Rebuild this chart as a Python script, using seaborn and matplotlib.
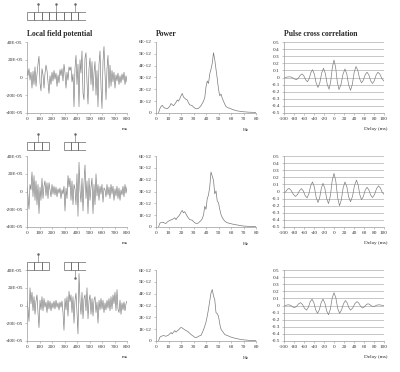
import numpy as np
import matplotlib
matplotlib.use('Agg')
import matplotlib.pyplot as plt
import seaborn as sns
from matplotlib.patches import Rectangle

sns.set_theme(style='ticks')
plt.rcParams['font.family'] = ['Liberation Serif', 'DejaVu Serif']
plt.rcParams['axes.unicode_minus'] = False

# ---- data ----
# local field potential traces (units of E-05), evenly spaced over 0..800 ms
lfp1 = [8, 2, 10, -3, 6, -12, 7, -8, 12, -10, 4, 15, 24, -6, -15, 10, 3, -12, 5, 14,
        8, -5, -18, 2, -8, 6, -4, 8, -2, 5, -10, 3, -6, 9, 2, 10, -4, 15, 5, -12,
        6, -3, 12, 8, 12, -5, 4, -33, 10, 25, -8, 15, -33, 20, 5, 30, -18, -25, 22, 28,
        -5, -30, 10, 22, -8, 18, -15, 5, 18, -20, 8, -33, 15, 30, -10, -35, 18, 35, 5, -25,
        10, 25, -12, 14, -10, 8, -5, 6, -12, 3, -4, 5, -8, 2, -6, 4, -3, 6, -8, 2, -5]
lfp2 = [5, -5, -20, 8, 2, 22, -6, 18, -10, 12, -15, 8, -25, 5, -10, 15, -8, 6, 12, -5,
        10, -8, 10, 2, -6, 8, -3, 6, -4, 5, -6, 3, -2, 4, -8, 2, -3, 6, -22, 4,
        -8, 18, 5, 15, -10, 12, -15, 8, 3, -15, 20, -28, 33, 2, -12, 15, -22, 10, 30, -8,
        12, -25, 15, -10, 5, 15, -25, 8, -15, 20, -5, 8, -10, 6, -3, 8, -12, 4, 2, -6,
        8, -4, 5, -8, 8, -3, 6, -10, 3, -5, 6, -8, 4, -10, 2, -4, 6, -6, 8, -2, 5]
lfp3 = [5, -3, -18, 20, 2, 15, -6, 10, -10, 5, 12, -8, -25, 6, -5, 10, -6, 8, -2, 4,
        -8, 6, -4, 5, -6, 3, -3, 5, -4, 6, -2, 3, -5, 4, -2, 5, -8, -28, 8, -5,
        10, -12, 16, 4, 12, -8, 10, -20, 6, 14, -8, -32, 36, 5, -10, 15, -15, 8, 12, -6,
        20, -15, 5, 12, -10, 8, -12, 6, 10, -8, 4, -20, 6, -5, 8, -4, 6, -8, 3, -5,
        6, -3, 8, -6, 10, -4, 12, 2, 15, -6, 18, -4, -8, 6, -10, 3, -5, 4, -6, 2, 5]

# power spectra (units of E-12), 1 Hz bins starting at 2 Hz
pow1 = [0.0, 0.35, 0.55, 0.65, 0.5, 0.42, 0.4, 0.37, 0.45, 0.57, 0.8, 0.7, 0.62, 0.75, 0.9,
        1.1, 1.0, 1.2, 1.45, 1.65, 1.35, 1.25, 1.15, 1.1, 0.85, 0.7, 0.65, 0.62, 0.5, 0.42,
        0.35, 0.37, 0.4, 0.5, 0.62, 0.8, 1.0, 1.3, 2.2, 2.7, 2.5, 3.3, 3.7, 4.2, 5.1,
        4.5, 3.7, 2.9, 2.0, 1.45, 1.6, 1.25, 1.0, 0.75, 0.55, 0.48, 0.42, 0.4, 0.35, 0.3,
        0.27, 0.24, 0.2, 0.18, 0.16, 0.15, 0.13, 0.12, 0.1, 0.1, 0.09, 0.08, 0.07, 0.07, 0.06,
        0.06, 0.05, 0.05, 0.05]
pow2 = [0.0, 0.3, 0.38, 0.4, 0.38, 0.32, 0.3, 0.42, 0.5, 0.55, 0.6, 0.64, 0.7, 0.78, 0.62,
        0.8, 0.9, 1.05, 1.25, 1.4, 1.2, 1.3, 1.1, 0.9, 0.75, 0.62, 0.6, 0.58, 0.45, 0.36,
        0.3, 0.3, 0.35, 0.45, 0.55, 0.7, 1.0, 1.75, 1.5, 2.4, 2.7, 3.4, 4.65, 4.3, 3.95,
        2.8, 3.05, 2.2, 2.05, 1.5, 1.05, 0.8, 0.62, 0.5, 0.42, 0.36, 0.33, 0.3, 0.28, 0.25,
        0.23, 0.21, 0.19, 0.17, 0.15, 0.13, 0.11, 0.1, 0.08, 0.07, 0.07, 0.06, 0.05, 0.05, 0.04,
        0.04, 0.03, 0.03, 0.03]
pow3 = [0.0, 0.3, 0.4, 0.42, 0.47, 0.43, 0.4, 0.45, 0.5, 0.6, 0.72, 0.6, 0.75, 0.88, 0.75,
        0.85, 0.95, 1.05, 1.15, 1.1, 1.02, 0.95, 0.88, 0.83, 0.75, 0.65, 0.55, 0.47, 0.4, 0.32,
        0.28, 0.33, 0.4, 0.44, 0.47, 0.7, 0.95, 1.25, 1.6, 2.1, 2.7, 3.4, 4.05, 4.35, 3.8,
        3.5, 2.4, 2.3, 2.1, 1.45, 1.0, 0.85, 0.7, 0.55, 0.5, 0.47, 0.42, 0.37, 0.33, 0.3,
        0.27, 0.24, 0.21, 0.19, 0.17, 0.15, 0.13, 0.11, 0.1, 0.09, 0.08, 0.07, 0.06, 0.05, 0.05,
        0.04, 0.04, 0.03, 0.03]

# pulse cross correlation, delay (ms) and value
lag1 = [-100, -96, -92, -88, -83.7, -79.3, -75, -71.3, -67.7, -64, -60.3, -56.7, -53, -49.7,
        -46.3, -43, -39.3, -35.7, -32, -28.3, -24.7, -21, -17.3, -13.7, -10, -6.7, -3.3, 0,
        3.3, 6.7, 10, 14, 18, 22, 25.7, 29.3, 33, 36.7, 40.3, 44, 47.7, 51.3, 55, 58.7, 62.3,
        66, 69.7, 73.3, 77, 80.7, 84.3, 88, 92, 96, 100]
corr1 = [0.0, 0.0025, 0.0075, 0.01, 0.0, -0.02, -0.03, -0.01, 0.03, 0.05, 0.0225, -0.0325,
         -0.06, -0.0175, 0.0675, 0.11, 0.0475, -0.0775, -0.14, -0.0725, 0.0625, 0.13, 0.056,
         -0.091, -0.165, -0.0625, 0.1425, 0.245, 0.141, -0.066, -0.17, -0.0975, 0.0475, 0.12,
         0.045, -0.105, -0.18, -0.096, 0.071, 0.155, 0.0975, -0.0175, -0.075, -0.0375, 0.0375,
         0.075, 0.035, -0.045, -0.085, -0.045, 0.035, 0.075, 0.044, -0.019, -0.05]
lag2 = [-100, -96.7, -93.3, -90, -85.7, -81.3, -77, -73, -69, -65, -61.3, -57.7, -54, -50.3,
        -46.7, -43, -39.3, -35.7, -32, -28.7, -25.3, -22, -18.3, -14.7, -11, -7.3, -3.7, 0,
        3.7, 7.3, 11, 14.7, 18.3, 22, 25.7, 29.3, 33, 37, 41, 45, 48.3, 51.7, 55, 58.7, 62.3,
        66, 69.7, 73.3, 77, 81, 85, 89, 92.7, 96.3, 100]
corr2 = [-0.02, -0.004, 0.029, 0.045, 0.016, -0.041, -0.07, -0.0425, 0.0125, 0.04, 0.0075,
         -0.0575, -0.09, -0.034, 0.079, 0.135, 0.0625, -0.0825, -0.155, -0.0875, 0.0475, 0.115,
         0.044, -0.099, -0.17, -0.064, 0.149, 0.255, 0.141, -0.086, -0.2, -0.116, 0.051, 0.135,
         0.065, -0.075, -0.145, -0.069, 0.084, 0.16, 0.091, -0.046, -0.115, -0.071, 0.016,
         0.06, 0.024, -0.049, -0.085, -0.044, 0.039, 0.08, 0.05, -0.01, -0.04]
lag3 = [-100, -96.7, -93.3, -90, -86.3, -82.7, -79, -75, -71, -67, -63, -59, -55, -51.3,
        -47.7, -44, -40.3, -36.7, -33, -29.3, -25.7, -22, -18.3, -14.7, -11, -7.3, -3.7, 0,
        3.7, 7.3, 11, 15, 19, 23, 26.3, 29.7, 33, 37.3, 41.7, 46, 49.7, 53.3, 57, 60.7, 64.3,
        68, 71.3, 74.7, 78, 81.7, 85.3, 89, 92.7, 96.3, 100]
corr3 = [0.0, 0.0025, 0.0075, 0.01, 0.0, -0.02, -0.03, -0.0125, 0.0225, 0.04, 0.014, -0.039,
         -0.065, -0.026, 0.051, 0.09, 0.04, -0.06, -0.11, -0.06, 0.04, 0.09, 0.035, -0.075,
         -0.13, -0.0525, 0.1025, 0.18, 0.1075, -0.0375, -0.11, -0.065, 0.025, 0.07, 0.036,
         -0.031, -0.065, -0.035, 0.025, 0.055, 0.0325, -0.0125, -0.035, -0.02, 0.01, 0.025,
         0.015, -0.005, -0.015, -0.009, 0.004, 0.01, 0.0075, 0.0025, 0.0]

lfp_ticks = [-40, -20, 0, 20, 40]
lfp_labels = ['-40E-05', '-20E-05', '0', '20E-05', '40E-05']
pow_ticks = [0, 1, 2, 3, 4, 5, 6]
pow_labels = ['0', '1E-12', '2E-12', '3E-12', '4E-12', '5E-12', '6E-12']
corr_ticks = [-0.5, -0.4, -0.3, -0.2, -0.1, 0, 0.1, 0.2, 0.3, 0.4, 0.5]
corr_labels = ['-0.5', '-0.4', '-0.3', '-0.2', '-0.1', '0', '0.1', '0.2', '0.3', '0.4', '0.5']

# electrode-array sketches above each LFP panel: box groups (start, count) and markers
sketch_groups = [[(0, 8)], [(0, 3), (5, 3)], [(0, 3), (5, 3)]]
sketch_up = [[1.5, 4.0, 6.5], [1.5, 6.5], [1.5]]
sketch_down = [[], [], [6.5]]

lfps = [lfp1, lfp2, lfp3]
pows = [pow1, pow2, pow3]
lags = [lag1, lag2, lag3]
corrs = [corr1, corr2, corr3]

# ---- layout (pixels) ----
W, H = 400, 372
fig = plt.figure(figsize=(W / 100, H / 100), dpi=100)
col_x = [27, 156, 284]
row_top = [42, 156, 270]
box_top = [12, 142, 262]
aw, ah = 100, 71
line_c = '#7a7a7a'
axis_c = '#9a9a9a'
fs = 3.8


def px_axes(x, y, w, h):
    return fig.add_axes([x / W, 1 - (y + h) / H, w / W, h / H])


def style(ax):
    sns.despine(ax=ax)
    for s in ['left', 'bottom']:
        ax.spines[s].set_color(axis_c)
        ax.spines[s].set_linewidth(0.5)
    ax.tick_params(length=1.5, width=0.4, color=axis_c, labelsize=fs, pad=1.5,
                   labelcolor='#333333')
    ax.grid(False)
    ax.set_ylabel('')


for r in range(3):
    # LFP
    ax = px_axes(col_x[0], row_top[r], aw, ah)
    t = np.linspace(0, 800, len(lfps[r]))
    sns.lineplot(x=t, y=lfps[r], ax=ax, color=line_c, linewidth=0.45, estimator=None)
    ax.set_xlim(0, 800)
    ax.set_ylim(-40, 40)
    ax.set_xticks(range(0, 801, 100))
    ax.set_yticks(lfp_ticks)
    ax.set_yticklabels(lfp_labels)
    style(ax)
    ax.set_xlabel('ms', fontsize=fs)
    ax.xaxis.set_label_coords(0.98, -0.2)
    if r == 0:
        ax.set_title('Local field potential', loc='left', fontsize=5.5, fontweight='bold', pad=4)

    # power
    ax = px_axes(col_x[1], row_top[r], aw, ah)
    f = np.arange(2, 2 + len(pows[r]))
    sns.lineplot(x=f, y=pows[r], ax=ax, color=line_c, linewidth=0.5, estimator=None)
    ax.set_xlim(0, 80)
    ax.set_ylim(0, 6)
    ax.set_xticks(range(0, 81, 10))
    ax.set_yticks(pow_ticks)
    ax.set_yticklabels(pow_labels)
    style(ax)
    ax.set_xlabel('Hz', fontsize=fs)
    ax.xaxis.set_label_coords(0.9, -0.21)
    if r == 0:
        ax.set_title('Power', loc='left', fontsize=5.5, fontweight='bold', pad=4)

    # cross correlation
    ax = px_axes(col_x[2], row_top[r], aw, ah)
    for g in corr_ticks:
        ax.axhline(g, color='#b0b0b0', linewidth=0.5, zorder=0)
    sns.lineplot(x=lags[r], y=corrs[r], ax=ax, color='#808080', linewidth=0.5, estimator=None)
    ax.set_xlim(-100, 100)
    ax.set_ylim(-0.5, 0.5)
    ax.set_xticks(range(-100, 101, 20))
    ax.set_yticks(corr_ticks)
    ax.set_yticklabels(corr_labels)
    style(ax)
    ax.set_xlabel('Delay (ms)', fontsize=fs)
    ax.xaxis.set_label_coords(0.92, -0.2)
    if r == 0:
        ax.set_title('Pulse cross correlation', loc='left', fontsize=5.5, fontweight='bold', pad=4)

    # electrode sketch
    bt = box_top[r]
    bh = 8
    sk = px_axes(col_x[0], bt - 11, 58.7, bh + 22)
    sk.set_xlim(0, 8)
    sk.set_ylim(bt + bh + 11, bt - 11)
    sk.axis('off')
    for start, n in sketch_groups[r]:
        for i in range(n):
            sk.add_patch(Rectangle((start + i, bt), 1, bh, fill=False,
                                   edgecolor='#666666', linewidth=0.5))
    for xm in sketch_up[r]:
        sk.plot([xm, xm], [bt - 8, bt], color='#666666', linewidth=0.4)
        sk.plot([xm], [bt - 8], marker='o', markersize=0.8, color='#666666')
    for xm in sketch_down[r]:
        sk.plot([xm, xm], [bt + bh, bt + bh + 8], color='#666666', linewidth=0.4)
        sk.plot([xm], [bt + bh + 8], marker='o', markersize=0.8, color='#666666')

fig.savefig('out.png', dpi=100, facecolor='white')
